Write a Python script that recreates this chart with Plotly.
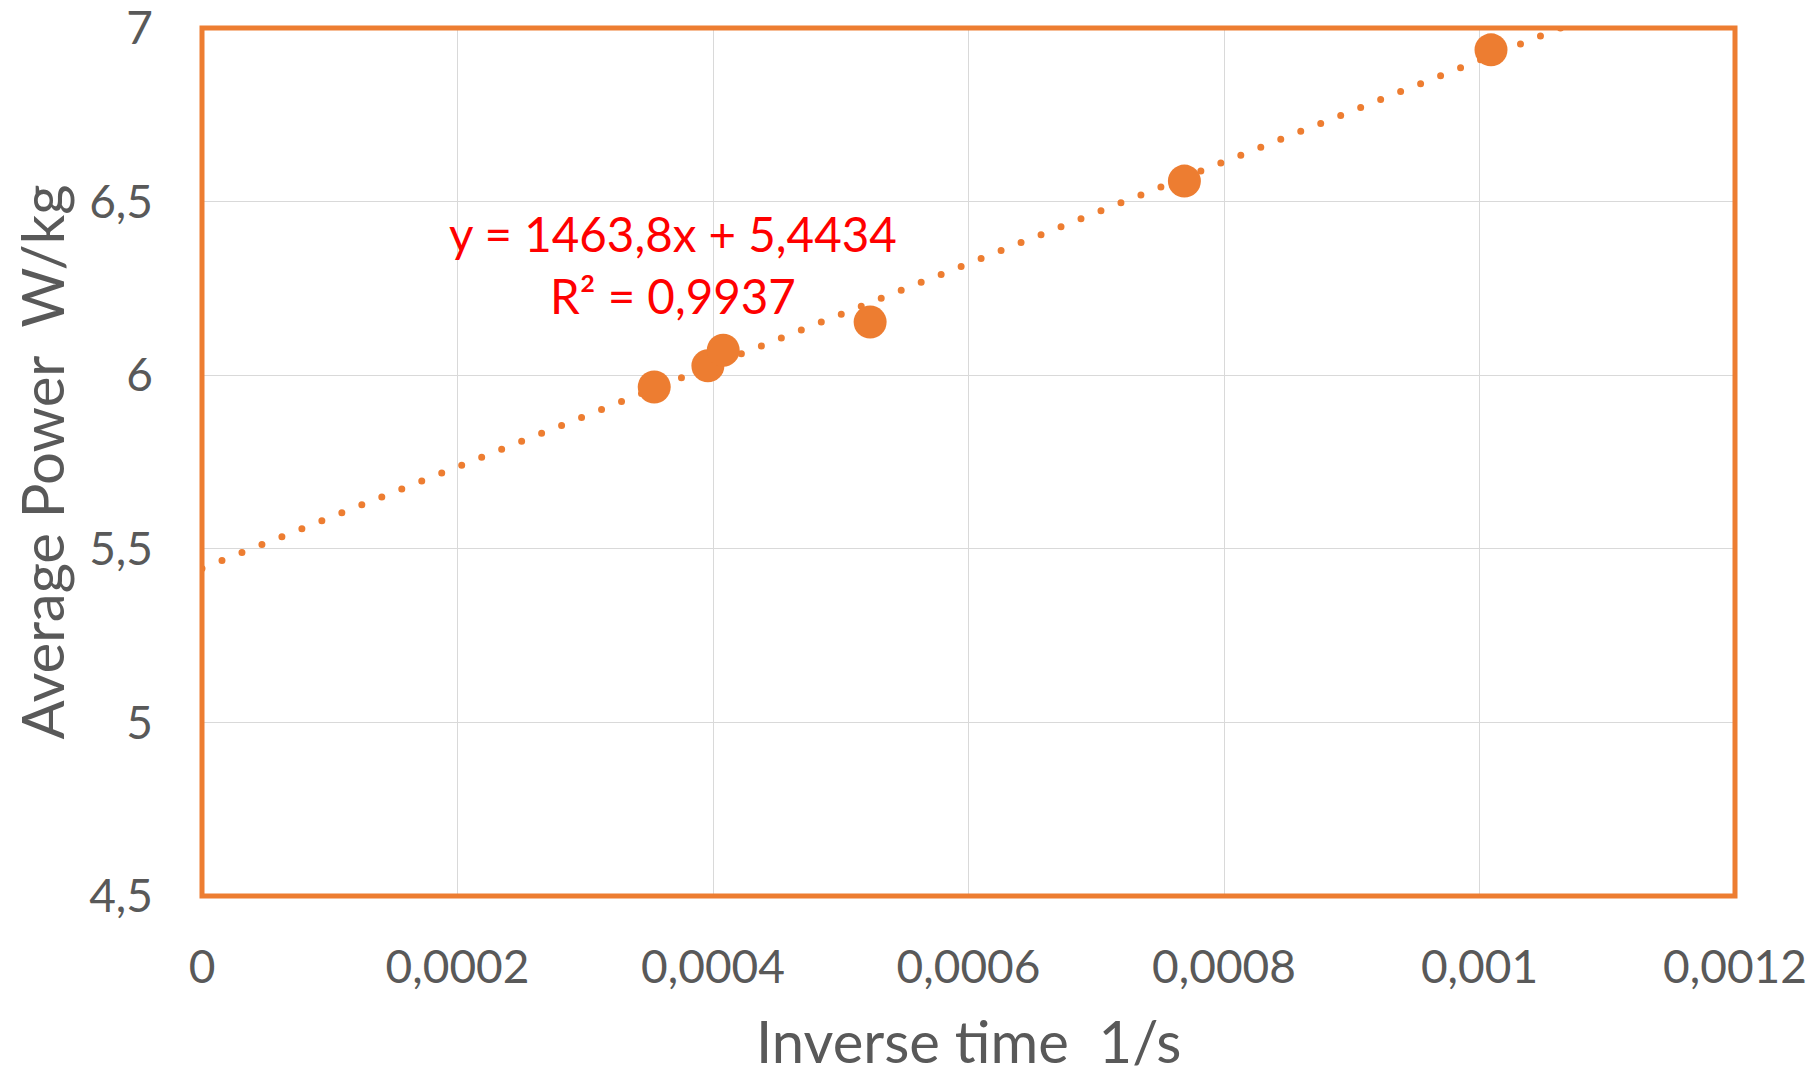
import plotly.graph_objects as go

# ---- data ----
inverse_time = [0.000354, 0.000396, 0.000408, 0.000523, 0.000769, 0.001009]
avg_power = [5.966, 6.027, 6.072, 6.153, 6.559, 6.937]

slope = 1463.8
intercept = 5.4434
r_squared = 0.9937
trend_x = [0.0, 0.0012]

x_tickvals = [0, 0.0002, 0.0004, 0.0006, 0.0008, 0.001, 0.0012]
x_ticktext = ["0", "0,0002", "0,0004", "0,0006", "0,0008", "0,001", "0,0012"]
y_tickvals = [4.5, 5, 5.5, 6, 6.5, 7]
y_ticktext = ["4,5", "5", "5,5", "6", "6,5", "7"]

x_title = "Inverse time\u00a0\u00a01/s"
y_title = "Average Power\u00a0\u00a0W/kg"

ORANGE = "#ED7D31"
GRAY = "#595959"
FONT = "Lato"

trend_y = [slope * x + intercept for x in trend_x]

fig = go.Figure()
fig.add_trace(go.Scatter(
    x=trend_x, y=trend_y, mode="lines",
    line=dict(color=ORANGE, width=7, dash="0px,21.5px"),
    hoverinfo="skip", showlegend=False,
))
fig.add_trace(go.Scatter(
    x=inverse_time, y=avg_power, mode="markers",
    marker=dict(color=ORANGE, size=33, line=dict(width=0)),
    showlegend=False,
))

fig.add_annotation(
    x=0.0003687, y=6.32, xref="x", yref="y",
    text=f"y = {str(slope).replace('.', ',')}x + {str(intercept).replace('.', ',')}<br>R² = {str(r_squared).replace('.', ',')}",
    showarrow=False, align="center",
    font=dict(family=FONT, size=47.5, color="#FF0000"),
)

# axis titles
fig.add_annotation(
    x=0.5, y=0, xref="paper", yref="paper", xanchor="center", yanchor="middle",
    yshift=-144, text=x_title, showarrow=False,
    font=dict(family=FONT, size=58, color=GRAY),
)
fig.add_annotation(
    x=0, y=0.5, xref="paper", yref="paper", xanchor="center", yanchor="middle",
    xshift=-161.5, text=y_title, showarrow=False, textangle=-90,
    font=dict(family=FONT, size=58, color=GRAY),
)

fig.add_shape(type="rect", xref="paper", yref="paper", x0=0, y0=0, x1=1, y1=1,
              line=dict(color=ORANGE, width=5), layer="above")

fig.update_layout(
    width=1817, height=1074,
    margin=dict(l=202, r=82, t=28, b=178),
    paper_bgcolor="white", plot_bgcolor="white",
    font=dict(family=FONT, color=GRAY),
    xaxis=dict(
        range=[0, 0.0012], tickvals=x_tickvals, ticktext=x_ticktext,
        showgrid=True, gridcolor="#D9D9D9", gridwidth=1.3, zeroline=False,
        showline=True, linecolor="#BFBFBF", linewidth=1.5,
        ticks="", tickfont=dict(size=46, color=GRAY),
        ticklabelstandoff=30, automargin=False, ticklabeloverflow="allow",
    ),
    yaxis=dict(
        range=[4.5, 7], tickvals=y_tickvals, ticktext=y_ticktext,
        showgrid=True, gridcolor="#D9D9D9", gridwidth=1.3, zeroline=False,
        showline=False, ticks="", tickfont=dict(size=46, color=GRAY),
        ticklabelstandoff=48, automargin=False, ticklabeloverflow="allow",
    ),
)

post = ("document.body.style.margin='0';document.body.style.overflow='hidden';"
        "document.querySelectorAll('path.js-line').forEach(function(p){"
        "p.style.strokeLinecap='round';});")
fig.write_html("out.html", post_script=post, config={"displayModeBar": False})
